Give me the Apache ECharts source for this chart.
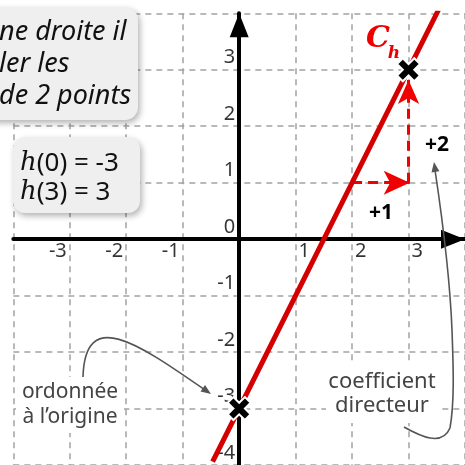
<!DOCTYPE html>
<html>
<head>
<meta charset="utf-8">
<script src="https://cdn.jsdelivr.net/npm/echarts@6/dist/echarts.min.js"></script>
<style>
  html, body { margin: 0; padding: 0; background: #fff; }
  #chart { width: 465px; height: 465px; }
</style>
</head>
<body>
<div id="chart"></div>
<script>
'use strict';
// valeurs
var xTicks = [-3, -2, -1, 1, 2, 3];
var yTicks = [-4, -3, -2, -1, 0, 1, 2, 3];
var linePoints = [[-0.47, -3.94], [3.53, 4.06]]; // droite C_h
var keyPoints = [[0, -3], [3, 3]]; // h(0) et h(3)
var stepRun = [[2, 1], [3.02, 1]]; // +1
var stepRise = [[3, 1], [3, 2.82]]; // +2

var RED = '#d40000';
var RED_DASH = '#f00000';
var GRAY = '#555555';
var CROSS = 'path://M0,5 L5,0 L10,5 L15,0 L20,5 L15,10 L20,15 L15,20 L10,15 L5,20 L0,15 L5,10 Z';

var chart = echarts.init(document.getElementById('chart'));

// petite tete de fleche pour les annotations grises
function arrowHead(tip, from, len, half) {
    var dx = tip[0] - from[0], dy = tip[1] - from[1];
    var d = Math.sqrt(dx * dx + dy * dy);
    var ux = dx / d, uy = dy / d;
    var bx = tip[0] - ux * len, by = tip[1] - uy * len;
    return {
        type: 'polygon',
        z: 120,
        shape: { points: [tip, [bx - uy * half, by + ux * half], [bx + uy * half, by - ux * half]] },
        style: { fill: GRAY }
    };
}

function axisLabels(ticks, isX) {
    return ticks.map(function (v) {
        var lab;
        if (isX) {
            lab = v < 0 ? { position: [-3, 12], align: 'right' } : { position: [3, 12], align: 'left' };
        } else {
            lab = { position: [-4, -12], align: 'right' };
        }
        lab.verticalAlign = 'middle';
        lab.formatter = String(v);
        return { value: isX ? [v, 0] : [0, v], label: lab };
    });
}

var axisCommon = {
    type: 'value',
    min: -4,
    max: 4,
    interval: 1,
    axisLine: {
        onZero: true,
        symbol: ['none', 'triangle'],
        symbolSize: [19, 24],
        symbolOffset: [0, -12],
        lineStyle: { color: '#000', width: 4 }
    },
    axisTick: { show: false },
    axisLabel: { show: false },
    splitLine: {
        show: true,
        lineStyle: { color: '#a3a3a3', width: 1.5, type: [6, 5] }
    }
};

var option = {
    animation: false,
    grid: { left: 13.33, top: 13.33, right: -1.67, bottom: -1.67 },
    xAxis: echarts.util.merge({}, axisCommon),
    yAxis: echarts.util.merge({}, axisCommon),
    series: [
        {
            // graduations
            type: 'scatter',
            symbolSize: 0,
            silent: true,
            z: 3,
            label: {
                show: true,
                color: '#000',
                fontSize: 20,
                fontFamily: 'Noto Sans'
            },
            data: axisLabels(xTicks, true).concat(axisLabels(yTicks, false))
        },
        {
            type: 'line',
            data: linePoints,
            symbol: 'none',
            z: 5,
            lineStyle: { color: RED, width: 5 },
            markLine: {
                silent: true,
                symbol: ['none', 'arrow'],
                label: { show: false },
                lineStyle: { color: RED_DASH, width: 3, type: [10, 6] },
                data: [
                    [{ coord: stepRun[0] }, { coord: stepRun[1], symbolSize: [18, 26] }],
                    [{ coord: stepRise[0] }, { coord: stepRise[1], symbolSize: [16, 24] }]
                ]
            }
        },
        {
            type: 'scatter',
            data: keyPoints,
            symbol: CROSS,
            symbolSize: 23,
            z: 8,
            itemStyle: { color: '#000', opacity: 1, borderColor: '#fff', borderWidth: 2 }
        }
    ],
    graphic: [
        // encadre du haut
        {
            type: 'rect', z: 100,
            shape: { x: -20, y: 7, width: 158, height: 113, r: 13 },
            style: { fill: '#efefef', shadowBlur: 6, shadowOffsetX: 2, shadowOffsetY: 3, shadowColor: 'rgba(0,0,0,0.3)' }
        },
        {
            type: 'text', z: 101, x: -1, y: 16,
            style: {
                text: 'ne droite il\nler les\nde 2 points',
                font: 'italic 27px "Noto Sans"',
                lineHeight: 32,
                fill: '#111'
            }
        },
        // encadre h(0), h(3)
        {
            type: 'rect', z: 100,
            shape: { x: 13, y: 137, width: 127, height: 76, r: 12 },
            style: { fill: '#efefef', shadowBlur: 6, shadowOffsetX: 2, shadowOffsetY: 3, shadowColor: 'rgba(0,0,0,0.3)' }
        },
        {
            type: 'text', z: 101, x: 20, y: 149,
            style: {
                text: '{m|h}(0) = -3\n{m|h}(3) = 3',
                font: '26px "Noto Sans"',
                lineHeight: 29,
                fill: '#111',
                rich: {
                    m: { fontFamily: 'DejaVu Serif', fontStyle: 'italic', fontSize: 26, lineHeight: 29, fill: '#111' }
                }
            }
        },
        // nom de la courbe
        {
            type: 'text', z: 101, x: 378, y: 39,
            style: { text: 'C', font: 'italic bold 30px "DejaVu Serif"', fill: '#ee0000', align: 'center', verticalAlign: 'middle' }
        },
        {
            type: 'text', z: 101, x: 394, y: 54,
            style: { text: 'h', font: 'italic bold 17px "DejaVu Serif"', fill: '#ee0000', align: 'center', verticalAlign: 'middle' }
        },
        {
            type: 'text', z: 101, x: 381, y: 213,
            style: { text: '+1', font: 'bold 21px "Noto Sans"', fill: '#000', align: 'center', verticalAlign: 'middle' }
        },
        {
            type: 'text', z: 101, x: 437, y: 145,
            style: { text: '+2', font: 'bold 21px "Noto Sans"', fill: '#000', align: 'center', verticalAlign: 'middle' }
        },
        // ordonnee a l'origine
        {
            type: 'rect', z: 100,
            shape: { x: 16, y: 377, width: 108, height: 56 },
            style: { fill: '#fff' }
        },
        {
            type: 'text', z: 101, x: 70, y: 405,
            style: { text: 'ordonnée\nà l’origine', font: '21px "Noto Sans"', lineHeight: 25, fill: '#444', align: 'center', verticalAlign: 'middle' }
        },
        {
            type: 'bezierCurve', z: 120,
            shape: { x1: 83, y1: 377, cpx1: 85, cpy1: 305, cpx2: 140, cpy2: 345, x2: 208, y2: 392 },
            style: { stroke: GRAY, lineWidth: 1.6, fill: null }
        },
        arrowHead([211, 394], [140, 345], 10, 4),
        // coefficient directeur
        {
            type: 'rect', z: 100,
            shape: { x: 326, y: 363, width: 113, height: 60 },
            style: { fill: '#fff' }
        },
        {
            type: 'text', z: 101, x: 382, y: 394,
            style: { text: 'coefficient\ndirecteur', font: '22px "Noto Sans"', lineHeight: 24, fill: '#444', align: 'center', verticalAlign: 'middle' }
        },
        {
            type: 'bezierCurve', z: 120,
            shape: { x1: 404, y1: 427, cpx1: 420, cpy1: 436, cpx2: 442, cpy2: 447, x2: 450, y2: 428 },
            style: { stroke: GRAY, lineWidth: 1.6, fill: null }
        },
        {
            type: 'bezierCurve', z: 120,
            shape: { x1: 450, y1: 428, cpx1: 455, cpy1: 400, cpx2: 453, cpy2: 360, x2: 452, y2: 330 },
            style: { stroke: GRAY, lineWidth: 1.6, fill: null }
        },
        {
            type: 'bezierCurve', z: 120,
            shape: { x1: 452, y1: 330, cpx1: 450, cpy1: 280, cpx2: 441, cpy2: 210, x2: 435, y2: 170 },
            style: { stroke: GRAY, lineWidth: 1.6, fill: null }
        },
        arrowHead([434, 162], [441, 210], 10, 4)
    ]
};

chart.setOption(option);
</script>
</body>
</html>
